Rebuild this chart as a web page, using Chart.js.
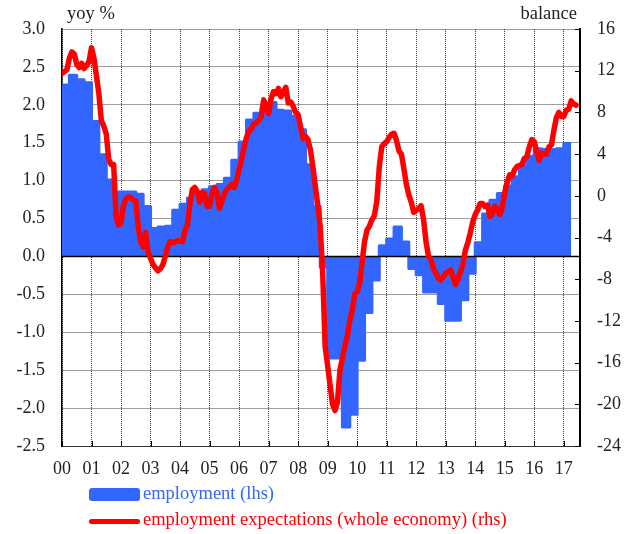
<!DOCTYPE html>
<html>
<head>
<meta charset="utf-8">
<script src="https://cdn.jsdelivr.net/npm/chart.js@4.4.1/dist/chart.umd.min.js"></script>
<style>
  html, body { margin: 0; padding: 0; background: #fff; overflow: hidden; }
  #wrap { position: relative; width: 641px; height: 534px; }
  canvas { position: absolute; left: 0; top: 0; }
  .txt { position: absolute; font-family: "Liberation Serif", "DejaVu Serif", serif; font-size: 18.5px; line-height: 22px; color: #222; white-space: nowrap; }
  .swatch { position: absolute; }
</style>
</head>
<body>
<div id="wrap">
  <canvas id="chart" width="641" height="534"></canvas>
  <div class="txt" style="left:67px; top:2px;">yoy %</div>
  <div class="txt" style="right:64px; top:2px;">balance</div>
  <div class="swatch" style="left:89px; top:488px; width:51px; height:13px; background:#3366ff; border-radius:3px;"></div>
  <div class="txt" style="left:143px; top:482px; color:#3366ff;">employment (lhs)</div>
  <div class="swatch" style="left:89px; top:519px; width:51px; height:5px; background:#ff0000; border-radius:3px;"></div>
  <div class="txt" style="left:143px; top:508px; color:#ff0000;">employment expectations (whole economy) (rhs)</div>
</div>
<script>
// employment, yoy %, quarterly from 2000 Q1 (left axis)
const empFirstYear = 2000;
const employment = [
    2.26, 2.39, 2.33, 2.29,    // 2000
    1.78, 1.34, 1.01, 0.85,    // 2001
    0.85, 0.85, 0.82, 0.66,    // 2002
    0.37, 0.39, 0.40, 0.61,    // 2003
    0.69, 0.77, 0.84, 0.88,    // 2004
    0.92, 0.95, 1.03, 1.27,    // 2005
    1.51, 1.80, 1.89, 1.96,    // 2006
    2.03, 1.93, 1.92, 1.85,    // 2007
    1.67, 1.21, 0.66, -0.14,   // 2008
    -1.34, -1.34, -2.25, -2.08, // 2009
    -1.37, -0.74, -0.31, 0.14, // 2010
    0.23, 0.39, 0.19, -0.16,   // 2011
    -0.24, -0.47, -0.47, -0.62, // 2012
    -0.84, -0.84, -0.57, -0.22, // 2013
    0.18, 0.56, 0.74, 0.83,    // 2014
    0.93, 1.05, 1.19, 1.32,    // 2015
    1.42, 1.41, 1.41, 1.42,    // 2016
    1.49                       // 2017
];

// employment expectations (whole economy), balance, monthly from Jan 2000 (right axis)
const expFirstYear = 2000;
const expectations = [
    11.75, 11.9, 12.1, 13.2, 13.8, 13.6, 12.6, 12.3, 12.7, 12.2, 12.5, 12.9,   // 2000
    14.2, 13.2, 11.5, 9.8, 7.2, 6.7, 5.9, 3.5, 3.0, 3.0, -2.0, -2.8,          // 2001
    -2.6, -0.9, -0.3, -0.1, -0.2, -0.4, -0.5, -3.0, -4.4, -4.9, -3.5, -5.4,   // 2002
    -6.0, -6.6, -6.9, -7.2, -7.0, -6.6, -5.8, -4.9, -4.4, -4.5, -4.4, -4.3,   // 2003
    -4.3, -4.4, -3.3, -2.8, -0.8, 0.6, 0.8, 0.4, -0.6, 0.3, 0.2, -1.0,        // 2004
    -1.0, 0.2, 0.8, 0.3, -1.2, -0.5, 0.2, 0.6, 0.8, 1.1, 0.8, 1.5,            // 2005
    2.5, 3.5, 4.6, 5.6, 6.2, 6.4, 6.9, 7.0, 7.2, 7.6, 9.2, 8.5,               // 2006
    7.9, 9.3, 10.0, 9.8, 10.3, 9.5, 10.0, 10.4, 8.9, 9.0, 8.6, 8.0,           // 2007
    7.8, 6.6, 5.5, 5.7, 5.4, 4.4, 2.8, 0.9, -0.9, -3.0, -7.5, -14.5,          // 2008
    -16.3, -18.2, -20.0, -20.6, -19.8, -16.7, -15.6, -14.4, -13.5, -12.0, -11.0, -9.4, // 2009
    -9.2, -8.4, -6.4, -4.4, -3.3, -2.9, -2.3, -1.9, -0.5, 2.8, 4.7, 5.0,      // 2010
    5.2, 5.6, 5.9, 6.0, 5.3, 4.3, 4.0, 2.6, 1.1, 0.1, -0.6, -1.6,             // 2011
    -1.4, -1.2, -0.95, -2.3, -4.4, -5.8, -6.1, -7.0, -7.4, -7.9, -8.1, -7.8,  // 2012
    -7.4, -7.3, -7.1, -7.8, -8.5, -8.0, -7.3, -6.6, -5.2, -4.5, -3.55, -2.5,  // 2013
    -1.8, -1.35, -0.75, -0.75, -1.05, -0.9, -2.0, -1.7, -1.0, -1.3, -1.8, -1.1, // 2014
    0.3, 1.3, 2.0, 1.9, 2.5, 2.8, 2.9, 3.0, 3.6, 3.75, 4.7, 5.4,              // 2015
    5.2, 4.2, 3.4, 4.1, 4.0, 4.0, 4.7, 4.9, 6.3, 7.5, 8.0, 7.6,               // 2016
    7.6, 8.2, 8.3, 9.1, 8.8, 8.7                                              // 2017
];

// axis ranges and ticks
const xMin = 2000, xMax = 2017.55;
const lhsMin = -2.5, lhsMax = 3.0, lhsStep = 0.5;
const rhsMin = -24, rhsMax = 16, rhsStep = 4;

const FONT = { family: "'Liberation Serif', 'DejaVu Serif', serif", size: 18 };
const BLUE = '#3366ff';
const RED = '#ff0000';
const INK = '#222';
const GRID = '#3a3a3a';

// quarterly steps: each value holds for its quarter, closed at the end of the last one
const empPoints = employment.map((v, i) => ({ x: empFirstYear + i / 4, y: v }));
empPoints.push({ x: empFirstYear + employment.length / 4, y: employment[employment.length - 1] });

const expPoints = expectations.map((v, i) => ({ x: expFirstYear + i / 12, y: v }));

// zero line over the blue area, inward tick marks on right and bottom axes
const framePlugin = {
    id: 'frame',
    afterDatasetDraw(chart, args) {
        if (args.index !== 1) return;
        const { ctx, chartArea, scales } = chart;
        const y0 = scales.y.getPixelForValue(0);
        ctx.save();
        ctx.strokeStyle = '#000';
        ctx.lineWidth = 1.5;
        ctx.beginPath();
        ctx.moveTo(chartArea.left, y0);
        ctx.lineTo(chartArea.right, y0);
        ctx.stroke();
        ctx.restore();
    },
    afterDraw(chart) {
        const { ctx, chartArea, scales } = chart;
        ctx.save();
        ctx.strokeStyle = '#000';
        ctx.lineWidth = 1;
        ctx.beginPath();
        scales.y2.ticks.forEach(t => {
            const y = Math.round(scales.y2.getPixelForValue(t.value)) + 0.5;
            ctx.moveTo(chartArea.right - 5, y);
            ctx.lineTo(chartArea.right, y);
        });
        scales.x.ticks.forEach(t => {
            const x = Math.round(scales.x.getPixelForValue(t.value)) + 0.5;
            ctx.moveTo(x, chartArea.bottom);
            ctx.lineTo(x, chartArea.bottom - 5);
        });
        ctx.stroke();
        ctx.restore();
    }
};

new Chart(document.getElementById('chart'), {
    type: 'line',
    data: {
        datasets: [
            {
                label: 'employment expectations (whole economy) (rhs)',
                data: expPoints,
                yAxisID: 'y2',
                borderColor: RED,
                borderWidth: 5.5,
                borderJoinStyle: 'round',
                borderCapStyle: 'round',
                pointRadius: 0,
                tension: 0,
                fill: false
            },
            {
                label: 'employment (lhs)',
                data: empPoints,
                yAxisID: 'y',
                stepped: true,
                borderColor: BLUE,
                backgroundColor: BLUE,
                borderWidth: 3,
                borderJoinStyle: 'round',
                pointRadius: 0,
                fill: 'origin'
            }
        ]
    },
    options: {
        responsive: false,
        animation: false,
        devicePixelRatio: 1,
        layout: { padding: { top: 29, left: 0, right: 0, bottom: 0 } },
        plugins: {
            legend: { display: false },
            tooltip: { enabled: false }
        },
        scales: {
            x: {
                type: 'linear',
                min: xMin,
                max: xMax,
                afterFit: s => { s.height = 88; },
                ticks: {
                    stepSize: 1,
                    includeBounds: false,
                    autoSkip: false,
                    maxRotation: 0,
                    padding: 12,
                    color: INK,
                    font: FONT,
                    callback: v => String(v % 100).padStart(2, '0')
                },
                grid: { color: GRID, lineWidth: 1, drawTicks: false },
                border: { display: true, color: '#333', width: 1, dash: [1, 1] }
            },
            y: {
                position: 'left',
                min: lhsMin,
                max: lhsMax,
                afterFit: s => { s.width = 62; },
                ticks: {
                    stepSize: lhsStep,
                    padding: 17,
                    color: INK,
                    font: FONT,
                    callback: v => v.toFixed(1)
                },
                grid: { color: GRID, lineWidth: 1, drawTicks: false },
                border: { display: true, color: '#000', width: 1.5, dash: [1, 1] }
            },
            y2: {
                position: 'right',
                min: rhsMin,
                max: rhsMax,
                afterFit: s => { s.width = 61; },
                ticks: {
                    stepSize: rhsStep,
                    padding: 17,
                    color: INK,
                    font: FONT
                },
                grid: { drawOnChartArea: false, drawTicks: false },
                border: { display: true, color: '#000', width: 2 }
            }
        }
    },
    plugins: [framePlugin]
});
</script>
</body>
</html>
